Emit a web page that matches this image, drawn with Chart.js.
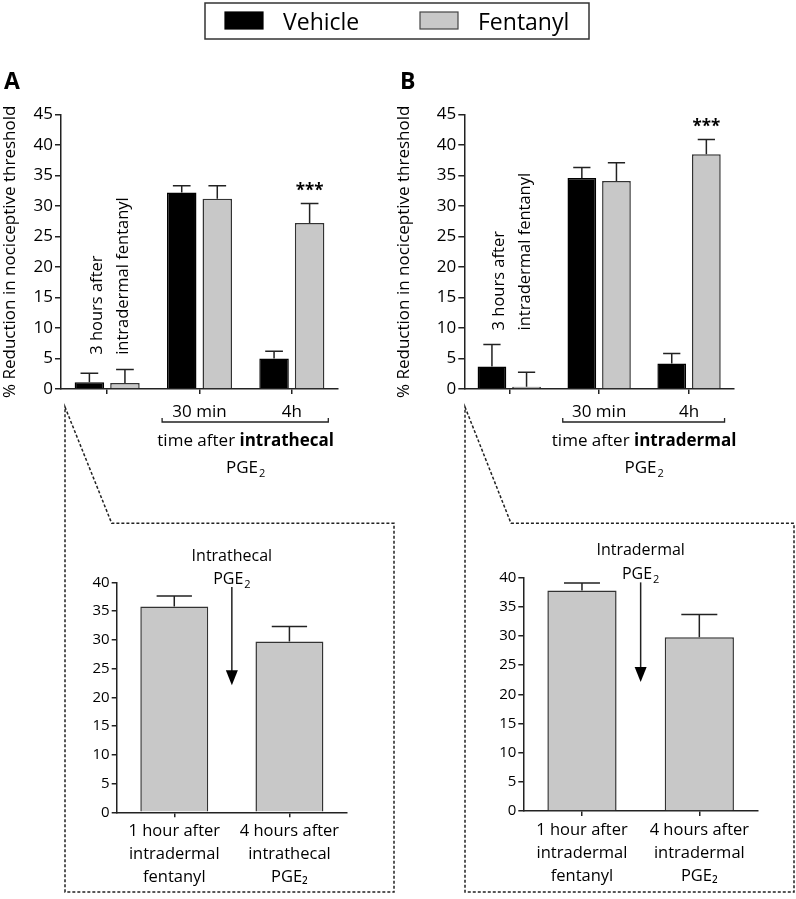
<!DOCTYPE html>
<html><head><meta charset="utf-8">
<script src="https://cdn.jsdelivr.net/npm/chart.js@4.4.1/dist/chart.umd.min.js"></script>
<style>
body{margin:0;width:796px;height:899px;position:relative;background:#fff;overflow:hidden}
canvas{position:absolute}
</style></head><body>
<canvas id="overlay" width="796" height="899" style="left:0;top:0"></canvas>
<canvas id="ca" width="400" height="385" style="left:0;top:95px"></canvas>
<canvas id="cb" width="403" height="385" style="left:393px;top:95px"></canvas>
<canvas id="cc" width="320" height="360" style="left:60px;top:530px"></canvas>
<canvas id="cd" width="320" height="360" style="left:470px;top:530px"></canvas>
<script>
// ---------- data ----------
const seriesNames = ['Vehicle', 'Fentanyl'];
const topCategories = ['', '30 min', '4h'];
const yTitle = '% Reduction in nociceptive threshold';
const topYTicksMax = 45;
const bottomYTicksMax = 40;

const aVehicle = [1.1, 32.2, 5.0];
const aVehicleErr = [1.5, 1.1, 1.2];
const aFentanyl = [1.0, 31.2, 27.2];
const aFentanylErr = [2.2, 2.1, 3.2];

const bVehicle = [3.7, 34.6, 4.2];
const bVehicleErr = [3.6, 1.7, 1.6];
const bFentanyl = [0.35, 34.1, 38.5];
const bFentanylErr = [2.4, 3.0, 2.4];

const cCategories = [['1 hour after', 'intradermal', 'fentanyl'], ['4 hours after', 'intrathecal', 'PGE\u2082']];
const cValues = [35.8, 29.7];
const cErr = [1.8, 2.6];

const dCategories = [['1 hour after', 'intradermal', 'fentanyl'], ['4 hours after', 'intradermal', 'PGE\u2082']];
const dValues = [37.8, 29.8];
const dErr = [1.3, 3.9];

// ---------- styles ----------
const F = '"Open Sans", "DejaVu Sans", sans-serif';
const BLACK = '#000';
const GREY = '#c8c8c8';
const LINE = '#222';
const TXT = '#000';

function drawPGE(ctx, cx, cy, size) {
  ctx.save();
  const main = size + 'px ' + F, sub = Math.round(size * 0.66) + 'px ' + F;
  ctx.font = main; const w1 = ctx.measureText('PGE').width;
  ctx.font = sub; const w2 = ctx.measureText('2').width;
  const x0 = cx - (w1 + w2 + 1) / 2;
  ctx.fillStyle = TXT; ctx.textAlign = 'left'; ctx.textBaseline = 'middle';
  ctx.font = main; ctx.fillText('PGE', x0, cy);
  ctx.font = sub; ctx.fillText('2', x0 + w1 + 1, cy + size * 0.32);
  ctx.restore();
}

const errorBars = {
  id: 'errorBars',
  afterDatasetsDraw(chart, args, opts) {
    const ctx = chart.ctx, y = chart.scales.y;
    chart.data.datasets.forEach((ds, di) => {
      const meta = chart.getDatasetMeta(di);
      meta.data.forEach((bar, i) => {
        const yt = y.getPixelForValue(ds.data[i] + ds.errors[i]);
        const half = bar.width * opts.capRatio;
        ctx.save(); ctx.strokeStyle = LINE; ctx.lineWidth = 1.5;
        ctx.beginPath();
        ctx.moveTo(bar.x, bar.y); ctx.lineTo(bar.x, yt);
        ctx.moveTo(bar.x - half, yt); ctx.lineTo(bar.x + half, yt);
        ctx.stroke(); ctx.restore();
      });
    });
  }
};

const topAnn = {
  id: 'topAnn',
  afterDraw(chart, args, o) {
    const ctx = chart.ctx, x = chart.scales.x, y = chart.scales.y, ca = chart.chartArea;
    ctx.save();
    ctx.fillStyle = TXT;
    const gx = x.getPixelForValue(0), sy = y.getPixelForValue(o.noteStart);
    ctx.font = '16.5px ' + F; ctx.textAlign = 'left'; ctx.textBaseline = 'middle';
    [['3 hours after', -9.5], ['intradermal fentanyl', 16.5]].forEach(([t, dx]) => {
      ctx.save(); ctx.translate(gx + dx, sy); ctx.rotate(-Math.PI / 2); ctx.fillText(t, 0, 0); ctx.restore();
    });
    const ds = chart.data.datasets[1], bar = chart.getDatasetMeta(1).data[2];
    const ys = y.getPixelForValue(ds.data[2] + ds.errors[2]) - 16.5;
    ctx.font = 'bold 17px ' + F; ctx.textAlign = 'center'; ctx.textBaseline = 'alphabetic';
    ctx.fillText('***', bar.x, ys + 17 * 0.55);
    const bx1 = x.getPixelForValue(1 - 0.405), bx2 = x.getPixelForValue(2 + 0.395), by = ca.bottom + 33;
    ctx.strokeStyle = LINE; ctx.lineWidth = 1.3;
    ctx.beginPath(); ctx.moveTo(bx1, by - 4); ctx.lineTo(bx1, by); ctx.lineTo(bx2, by); ctx.lineTo(bx2, by - 4); ctx.stroke();
    const cx = x.getPixelForValue(1.5), ty = ca.bottom + 52;
    ctx.font = '17px ' + F; const w1 = ctx.measureText('time after ').width;
    ctx.font = 'bold 17px ' + F; const w2 = ctx.measureText(o.route).width;
    ctx.textAlign = 'left'; ctx.textBaseline = 'middle';
    ctx.font = '17px ' + F; ctx.fillText('time after ', cx - (w1 + w2) / 2, ty);
    ctx.font = 'bold 17px ' + F; ctx.fillText(o.route, cx - (w1 + w2) / 2 + w1, ty);
    drawPGE(ctx, cx, ca.bottom + 79, 17);
    ctx.restore();
  }
};

const botAnn = {
  id: 'botAnn',
  afterDraw(chart, args, o) {
    const ctx = chart.ctx, x = chart.scales.x, y = chart.scales.y, ca = chart.chartArea;
    const ax = x.getPixelForValue(0.5);
    ctx.save();
    ctx.fillStyle = TXT; ctx.font = '16px ' + F; ctx.textAlign = 'center'; ctx.textBaseline = 'middle';
    ctx.fillText(o.route, ax, ca.top + o.t1);
    drawPGE(ctx, ax, ca.top + o.t2, 16);
    const y1 = y.getPixelForValue(39.2), y2 = y.getPixelForValue(22.1);
    ctx.strokeStyle = LINE; ctx.lineWidth = 1.5;
    ctx.beginPath(); ctx.moveTo(ax, y1); ctx.lineTo(ax, y2 - 12); ctx.stroke();
    ctx.fillStyle = '#000';
    ctx.beginPath(); ctx.moveTo(ax - 6, y2 - 15); ctx.lineTo(ax + 6, y2 - 15); ctx.lineTo(ax, y2); ctx.closePath(); ctx.fill();
    ctx.restore();
  }
};

function axisCommon(tl) {
  return {
    grid: { display: true, drawOnChartArea: false, drawTicks: true, tickLength: tl, color: LINE, lineWidth: 1.5, offset: false },
    border: { display: true, color: LINE, width: 1.5 }
  };
}

function topChart(id, veh, vehErr, fen, fenErr, L, ann) {
  return new Chart(document.getElementById(id), {
    type: 'bar',
    data: {
      labels: topCategories,
      datasets: [
        { label: seriesNames[0], data: veh, errors: vehErr, backgroundColor: BLACK, borderColor: BLACK, borderWidth: 1.5 },
        { label: seriesNames[1], data: fen, errors: fenErr, backgroundColor: GREY, borderColor: '#333', borderWidth: 1.5 }
      ]
    },
    options: {
      responsive: false, animation: false, devicePixelRatio: 1,
      layout: { padding: { left: 0, top: L.top, right: L.right, bottom: 0 } },
      datasets: { bar: { categoryPercentage: 0.77, barPercentage: 0.83 } },
      plugins: { legend: { display: false }, tooltip: { enabled: false }, errorBars: { capRatio: 0.3 }, topAnn: ann },
      scales: {
        x: Object.assign(axisCommon(5), {
          ticks: { color: TXT, font: { family: F, size: 17 }, padding: 8, maxRotation: 0, autoSkip: false },
          afterFit(s) { s.height = L.xh; }
        }),
        y: Object.assign(axisCommon(6), {
          min: 0, max: topYTicksMax,
          ticks: { stepSize: 5, color: TXT, font: { family: F, size: 17 }, padding: 2 },
          title: { display: true, text: yTitle, color: TXT, font: { family: F, size: 17 }, padding: { top: L.tp, bottom: 0 } },
          afterFit(s) { s.width = L.yw; }
        })
      }
    },
    plugins: [errorBars, topAnn]
  });
}

function botChart(id, cats, vals, errs, L, ann) {
  return new Chart(document.getElementById(id), {
    type: 'bar',
    data: {
      labels: cats,
      datasets: [{ label: seriesNames[1], data: vals, errors: errs, backgroundColor: GREY, borderColor: '#333', borderWidth: 1.5 }]
    },
    options: {
      responsive: false, animation: false, devicePixelRatio: 1,
      layout: { padding: { left: 0, top: L.top, right: L.right, bottom: 0 } },
      datasets: { bar: { categoryPercentage: 1, barPercentage: 0.59 } },
      plugins: { legend: { display: false }, tooltip: { enabled: false }, errorBars: { capRatio: 0.26 }, botAnn: ann },
      scales: {
        x: Object.assign(axisCommon(5), {
          ticks: { color: TXT, font: { family: F, size: 16.5, lineHeight: 1.38 }, padding: 3, maxRotation: 0, autoSkip: false },
          afterFit(s) { s.height = L.xh; }
        }),
        y: Object.assign(axisCommon(5), {
          min: 0, max: bottomYTicksMax,
          ticks: { stepSize: 5, color: TXT, font: { family: F, size: 15 }, padding: 2 },
          afterFit(s) { s.width = L.yw; }
        })
      }
    },
    plugins: [errorBars, botAnn]
  });
}

topChart('ca', aVehicle, aVehicleErr, aFentanyl, aFentanylErr,
  { top: 19.5, right: 62, xh: 91, yw: 61, tp: 0 }, { noteStart: 5.6, route: 'intrathecal' });
topChart('cb', bVehicle, bVehicleErr, bFentanyl, bFentanylErr,
  { top: 19.5, right: 62, xh: 91, yw: 71.3, tp: 0.6 }, { noteStart: 9.6, route: 'intradermal' });
botChart('cc', cCategories, cValues, cErr,
  { top: 52.3, right: 33, xh: 77.7, yw: 56.7 }, { route: 'Intrathecal', t1: -26, t2: -3 });
botChart('cd', dCategories, dValues, dErr,
  { top: 47.7, right: 32, xh: 79, yw: 53.3 }, { route: 'Intradermal', t1: -27, t2: -3 });

// ---------- overlay: legend, panel letters, dashed zoom boxes ----------
(function () {
  const ctx = document.getElementById('overlay').getContext('2d');
  ctx.strokeStyle = '#333'; ctx.lineWidth = 1.5;
  ctx.strokeRect(205, 3, 384, 36);
  const sw = [BLACK, GREY];
  seriesNames.forEach((n, i) => {
    const dx = i * 195;
    ctx.fillStyle = sw[i]; ctx.fillRect(225 + dx, 12, 38, 17);
    ctx.strokeStyle = i ? '#444' : '#000'; ctx.lineWidth = 1.2; ctx.strokeRect(225 + dx, 12, 38, 17);
    ctx.fillStyle = TXT; ctx.font = '23px ' + F; ctx.textAlign = 'left'; ctx.textBaseline = 'alphabetic';
    ctx.fillText(n, 283 + dx, 29.5);
  });
  ctx.font = 'bold 23px ' + F; ctx.fillStyle = '#000';
  ctx.fillText('A', 4, 88.5);
  ctx.fillText('B', 400, 88.5);
  ctx.setLineDash([3, 2]); ctx.lineWidth = 1.5; ctx.strokeStyle = '#222';
  [[65, 111.7, 394], [465, 511, 794]].forEach(([l, k, r]) => {
    ctx.beginPath();
    ctx.moveTo(l, 407); ctx.lineTo(k, 523.3); ctx.lineTo(r, 523.3); ctx.lineTo(r, 892);
    ctx.lineTo(l, 892); ctx.closePath(); ctx.stroke();
  });
})();
</script>
</body></html>
